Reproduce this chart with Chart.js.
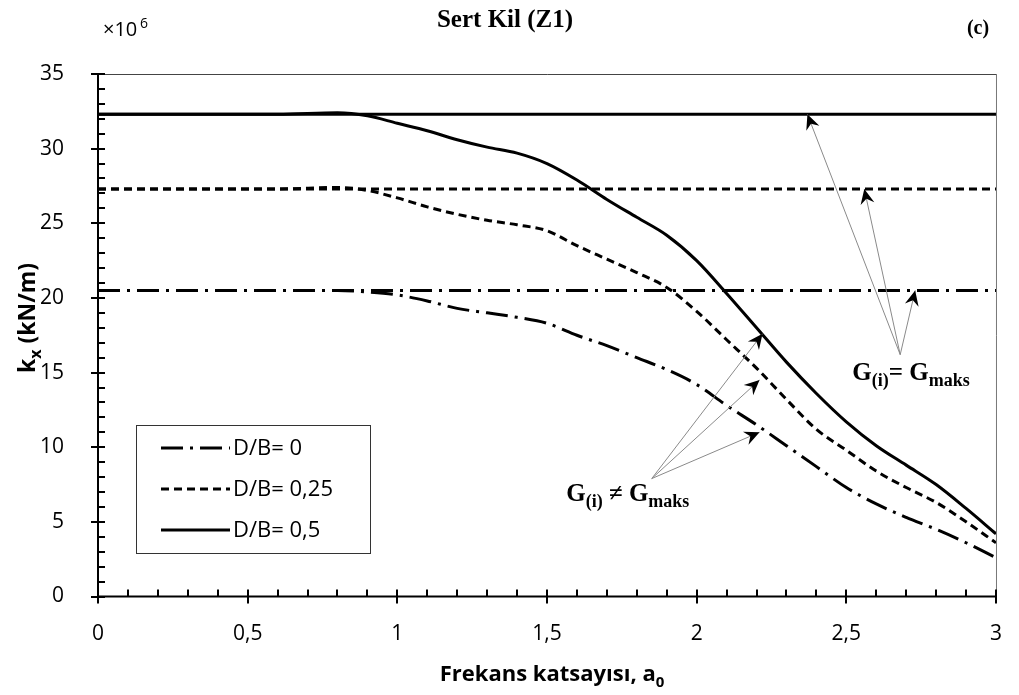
<!DOCTYPE html>
<html>
<head>
<meta charset="utf-8">
<script src="https://cdn.jsdelivr.net/npm/chart.js@4.4.1/dist/chart.umd.min.js"></script>
<style>
  html, body { margin: 0; padding: 0; background: #fff; }
  #wrap { width: 1019px; height: 695px; position: relative; }
</style>
</head>
<body>
<div id="wrap"><canvas id="kxChart" width="1019" height="695"></canvas></div>
<script>
// frequency coefficient a0 (x values)
const freq = [0, 0.2, 0.4, 0.6, 0.8, 0.9, 1.0, 1.1, 1.2, 1.3, 1.4, 1.5, 1.6, 1.7, 1.8, 1.9, 2.0, 2.1, 2.2, 2.3, 2.4, 2.5, 2.6, 2.7, 2.8, 2.9, 3.0];

// kx (x10^6 kN/m), G(i) != Gmaks
const kxDB0   = [20.5, 20.5, 20.5, 20.5, 20.5, 20.4, 20.2, 19.8, 19.3, 19.0, 18.7, 18.3, 17.5, 16.8, 16.0, 15.2, 14.2, 12.8, 11.5, 10.1, 8.7, 7.3, 6.2, 5.3, 4.5, 3.6, 2.6];
const kxDB025 = [27.3, 27.3, 27.3, 27.3, 27.4, 27.2, 26.7, 26.1, 25.6, 25.2, 24.9, 24.5, 23.5, 22.6, 21.7, 20.7, 19.1, 17.2, 15.3, 13.2, 11.2, 9.8, 8.4, 7.3, 6.3, 5.0, 3.6];
const kxDB05  = [32.3, 32.3, 32.3, 32.3, 32.4, 32.2, 31.7, 31.2, 30.6, 30.1, 29.7, 29.0, 27.9, 26.6, 25.4, 24.2, 22.5, 20.3, 18.0, 15.7, 13.6, 11.7, 10.1, 8.8, 7.5, 5.9, 4.2];

// kx for G(i) = Gmaks (constant)
const kxMax = [20.5, 27.3, 32.3];

const seriesNames = ["D/B= 0", "D/B= 0,25", "D/B= 0,5"];

// arrow annotations: [fromX, fromY, toX, toY]
const arrowsEq  = [[2.68, 16.2, 2.37, 32.3], [2.68, 16.2, 2.56, 27.3], [2.68, 16.2, 2.73, 20.5]];
const arrowsNeq = [[1.85, 7.9, 2.22, 17.6], [1.85, 7.9, 2.21, 14.5], [1.85, 7.9, 2.21, 11.0]];

const dashes = [[22, 7, 3, 7], [8, 5], []];

function pts(ys){ return freq.map((x, i) => ({x: x, y: ys[i]})); }
function flat(v){ return [{x: 0, y: v}, {x: 3, y: v}]; }

const datasets = [];
[kxDB0, kxDB025, kxDB05].forEach((ys, i) => {
  datasets.push({
    label: seriesNames[i], data: pts(ys), borderColor: '#000', borderWidth: 3,
    borderDash: dashes[i], pointRadius: 0, fill: false, cubicInterpolationMode: 'monotone'
  });
  datasets.push({
    label: seriesNames[i] + ' maks', data: flat(kxMax[i]), borderColor: '#000', borderWidth: 3,
    borderDash: dashes[i], pointRadius: 0, fill: false
  });
});

const fmt = v => String(v).replace('.', ',');
const sans = '"Open Sans", sans-serif';
const serif = '"Liberation Serif", "Times New Roman", serif';

function arrow(ctx, x1, y1, x2, y2){
  ctx.save();
  ctx.strokeStyle = '#8a8a8a';
  ctx.lineWidth = 1;
  ctx.setLineDash([]);
  ctx.beginPath(); ctx.moveTo(x1, y1); ctx.lineTo(x2, y2); ctx.stroke();
  const a = Math.atan2(y2 - y1, x2 - x1);
  ctx.translate(x2, y2); ctx.rotate(a);
  ctx.fillStyle = '#000';
  ctx.beginPath();
  ctx.moveTo(0, 0); ctx.lineTo(-15, -7); ctx.lineTo(-10, 0); ctx.lineTo(-15, 7); ctx.closePath();
  ctx.fill();
  ctx.restore();
}

// text with subscripts: parts = [[text, isSub], ...]
function richText(ctx, parts, x, y, size, family, align, weight){
  ctx.save();
  ctx.fillStyle = '#000';
  ctx.textBaseline = 'alphabetic';
  ctx.textAlign = 'left';
  const wt = weight || 'bold';
  const fontMain = wt + ' ' + size + 'px ' + family;
  const fontSub = wt + ' ' + Math.round(size * 0.7) + 'px ' + family;
  let w = 0;
  parts.forEach(p => { ctx.font = p[1] ? fontSub : fontMain; w += ctx.measureText(p[0]).width; });
  let cx = align === 'center' ? x - w / 2 : x;
  parts.forEach(p => {
    ctx.font = p[1] ? fontSub : fontMain;
    ctx.fillText(p[0], cx, p[1] ? y + size * 0.25 : y);
    cx += ctx.measureText(p[0]).width;
  });
  ctx.restore();
}

const decor = {
  id: 'decor',
  afterDraw(chart){
    const ctx = chart.ctx;
    const xs = chart.scales.x, ys = chart.scales.y;
    const ca = chart.chartArea;
    ctx.save();
    // frame top/right
    ctx.strokeStyle = '#444'; ctx.lineWidth = 1;
    ctx.beginPath();
    ctx.moveTo(ca.left, ca.top + 0.5); ctx.lineTo(ca.right + 0.5, ca.top + 0.5);
    ctx.stroke();
    ctx.strokeStyle = '#777';
    ctx.beginPath();
    ctx.moveTo(ca.right + 0.5, ca.top); ctx.lineTo(ca.right + 0.5, ca.bottom);
    ctx.stroke();
    // axes
    ctx.strokeStyle = '#000'; ctx.lineWidth = 2;
    ctx.beginPath();
    ctx.moveTo(ca.left, ca.top); ctx.lineTo(ca.left, ca.bottom); ctx.lineTo(ca.right, ca.bottom);
    ctx.stroke();
    // ticks
    for(let i = 0; i <= 30; i++){
      const px = Math.round(xs.getPixelForValue(i / 10));
      ctx.beginPath();
      if(i % 5 === 0){ ctx.moveTo(px, ca.bottom - 7); ctx.lineTo(px, ca.bottom + 7); }
      else { ctx.moveTo(px, ca.bottom - 7); ctx.lineTo(px, ca.bottom); }
      ctx.stroke();
    }
    for(let j = 0; j <= 35; j++){
      const py = Math.round(ys.getPixelForValue(j));
      ctx.beginPath();
      if(j % 5 === 0){ ctx.moveTo(ca.left - 7, py); ctx.lineTo(ca.left + 7, py); }
      else { ctx.moveTo(ca.left, py); ctx.lineTo(ca.left + 7, py); }
      ctx.stroke();
    }
    // arrows
    arrowsEq.concat(arrowsNeq).forEach(a => {
      arrow(ctx, xs.getPixelForValue(a[0]), ys.getPixelForValue(a[1]), xs.getPixelForValue(a[2]), ys.getPixelForValue(a[3]));
    });
    richText(ctx, [['G', false], ['(i)', true], ['= G', false], ['maks', true]],
      xs.getPixelForValue(2.716), ys.getPixelForValue(14.5), 25, serif, 'center');
    richText(ctx, [['G', false], ['(i)', true], [' \u2260 G', false], ['maks', true]],
      xs.getPixelForValue(1.77), ys.getPixelForValue(6.4), 25, serif, 'center');
    // titles
    richText(ctx, [['Sert Kil (Z1)', false]], 505, 27, 25, serif, 'center');
    richText(ctx, [['(c)', false]], 978, 34, 20, serif, 'center');
    ctx.font = '20px ' + sans; ctx.fillStyle = '#000';
    ctx.textBaseline = 'alphabetic'; ctx.textAlign = 'left';
    ctx.fillText('\u00d710', 103, 36);
    ctx.font = '14px ' + sans;
    ctx.fillText('6', 140, 28);
    richText(ctx, [['Frekans katsay\u0131s\u0131, a', false], ['0', true]], 552, 681, 22, sans, 'center');
    ctx.save();
    ctx.translate(35, 318);
    ctx.rotate(-Math.PI / 2);
    richText(ctx, [['k', false], ['x', true], [' (kN/m)', false]], 0, 0, 23, sans, 'center');
    ctx.restore();
    // legend
    const lx = 136, ly = 425, lw = 234, lh = 128;
    ctx.fillStyle = '#fff'; ctx.fillRect(lx, ly, lw, lh);
    ctx.strokeStyle = '#333'; ctx.lineWidth = 1;
    ctx.strokeRect(lx + 0.5, ly + 0.5, lw, lh);
    for(let k = 0; k < 3; k++){
      const yy = ly + 23 + k * 41;
      const ds = chart.data.datasets[k * 2];
      ctx.strokeStyle = '#000'; ctx.lineWidth = 3;
      ctx.setLineDash(ds.borderDash);
      ctx.beginPath(); ctx.moveTo(lx + 25, yy); ctx.lineTo(lx + 94, yy); ctx.stroke();
      ctx.setLineDash([]);
      ctx.fillStyle = '#000'; ctx.font = '22px ' + sans; ctx.textBaseline = 'middle'; ctx.textAlign = 'left';
      ctx.fillText(ds.label, lx + 97, yy + 1);
    }
    ctx.restore();
  }
};

new Chart(document.getElementById('kxChart'), {
  type: 'line',
  data: { datasets: datasets },
  options: {
    responsive: false,
    animation: false,
    layout: { padding: { top: 74, right: 13, left: 0, bottom: 0 } },
    plugins: { legend: { display: false }, tooltip: { enabled: false } },
    scales: {
      x: {
        type: 'linear', min: 0, max: 3,
        grid: { display: false }, border: { display: false },
        ticks: { stepSize: 0.5, padding: 17, color: '#000', font: { size: 21, family: sans }, callback: v => fmt(v), maxRotation: 0 },
        afterFit: s => { s.height = 98.5; }
      },
      y: {
        min: 0, max: 35,
        grid: { display: false }, border: { display: false },
        ticks: { stepSize: 5, padding: 26, color: '#000', font: { size: 21, family: sans } },
        afterFit: s => { s.width = 98; }
      }
    }
  },
  plugins: [decor]
});
</script>
</body>
</html>
